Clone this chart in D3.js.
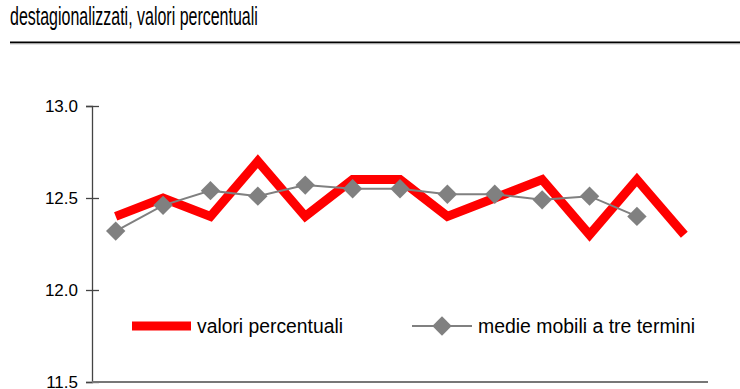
<!DOCTYPE html>
<html>
<head>
<meta charset="utf-8">
<script src="https://cdn.jsdelivr.net/npm/d3@7"></script>
<style>
  body { margin: 0; background: #fff; }
  svg { display: block; font-family: "Liberation Sans", Arial, sans-serif; }
</style>
</head>
<body>
<div id="chart"></div>
<script>
var periods = ["1", "2", "3", "4", "5", "6", "7", "8", "9", "10", "11", "12", "13"];
var valori = [12.4, 12.5, 12.4, 12.7, 12.4, 12.6, 12.6, 12.4, 12.5, 12.6, 12.3, 12.6, 12.3];
var medie = [12.32, 12.46, 12.54, 12.51, 12.57, 12.55, 12.55, 12.52, 12.52, 12.49, 12.51, 12.40];
var yTicks = [11.5, 12.0, 12.5, 13.0];

var width = 740, height = 389;

var svg = d3.select("#chart")
    .append("svg")
    .attr("width", width)
    .attr("height", height);

// title + rule (condensed face in the original, squeeze to width)
var title = svg.append("text")
    .attr("x", 0)
    .attr("y", 0)
    .attr("font-size", 25)
    .attr("fill", "#000")
    .text("destagionalizzati, valori percentuali");
var tw = title.node().getComputedTextLength();
title.attr("transform", "translate(10,25) scale(" + (248 / tw) + ",1)");

svg.append("line")
    .attr("x1", 10).attr("x2", 740)
    .attr("y1", 42.5).attr("y2", 42.5)
    .attr("stroke", "#000")
    .attr("stroke-width", 2);
svg.append("line")
    .attr("x1", 10).attr("x2", 740)
    .attr("y1", 44).attr("y2", 44)
    .attr("stroke", "#ccc")
    .attr("stroke-width", 1);

var x = d3.scaleBand().domain(periods).range([92, 708]),
    y = d3.scaleLinear().domain([11.5, 13.0]).range([382, 106]),
    cx = function(i) { return x(periods[i]) + x.bandwidth() / 2; };

// y axis
var yAxis = svg.append("g")
    .attr("transform", "translate(92,0)")
    .call(d3.axisLeft(y).tickValues(yTicks).tickFormat(d3.format(".1f")).tickSize(6).tickPadding(8));
yAxis.select(".domain").attr("stroke", "#444").attr("stroke-width", 1.3);
yAxis.selectAll(".tick line")
    .attr("x1", 7)
    .attr("stroke", "#444")
    .attr("stroke-width", 1.3);
yAxis.selectAll(".tick text")
    .style("font-size", "17px")
    .attr("x", -14)
    .attr("fill", "#000");

// x axis
svg.append("line")
    .attr("x1", 92).attr("x2", 708)
    .attr("y1", y(11.5)).attr("y2", y(11.5))
    .attr("stroke", "#777")
    .attr("stroke-width", 2);

var line = d3.line()
    .x(function(d, i) { return cx(i); })
    .y(function(d) { return y(d); });

svg.append("path")
    .datum(valori)
    .attr("d", line)
    .attr("fill", "none")
    .attr("stroke", "#ff0000")
    .attr("stroke-width", 9)
    .attr("stroke-linejoin", "miter");

svg.append("path")
    .datum(medie)
    .attr("d", line)
    .attr("fill", "none")
    .attr("stroke", "#808080")
    .attr("stroke-width", 2);

var diamond = d3.symbol().type(d3.symbolDiamond2).size(240);

svg.selectAll("path.dot")
    .data(medie)
    .enter()
    .append("path")
    .attr("class", "dot")
    .attr("d", diamond)
    .attr("transform", function(d, i) { return "translate(" + cx(i) + "," + y(d) + ")"; })
    .attr("fill", "#808080");

// legend
var ly = 326;
svg.append("line")
    .attr("x1", 132).attr("x2", 191)
    .attr("y1", ly).attr("y2", ly)
    .attr("stroke", "#ff0000")
    .attr("stroke-width", 9);
svg.append("text")
    .attr("x", 197).attr("y", ly + 7)
    .style("font-size", "19.5px")
    .attr("textLength", 146)
    .attr("lengthAdjust", "spacingAndGlyphs")
    .attr("fill", "#000")
    .text("valori percentuali");

svg.append("line")
    .attr("x1", 412).attr("x2", 472)
    .attr("y1", ly).attr("y2", ly)
    .attr("stroke", "#808080")
    .attr("stroke-width", 2);
svg.append("path")
    .attr("d", diamond)
    .attr("transform", "translate(442," + ly + ")")
    .attr("fill", "#808080");
svg.append("text")
    .attr("x", 478).attr("y", ly + 7)
    .style("font-size", "19.5px")
    .attr("textLength", 217)
    .attr("lengthAdjust", "spacingAndGlyphs")
    .attr("fill", "#000")
    .text("medie mobili a tre termini");
</script>
</body>
</html>
